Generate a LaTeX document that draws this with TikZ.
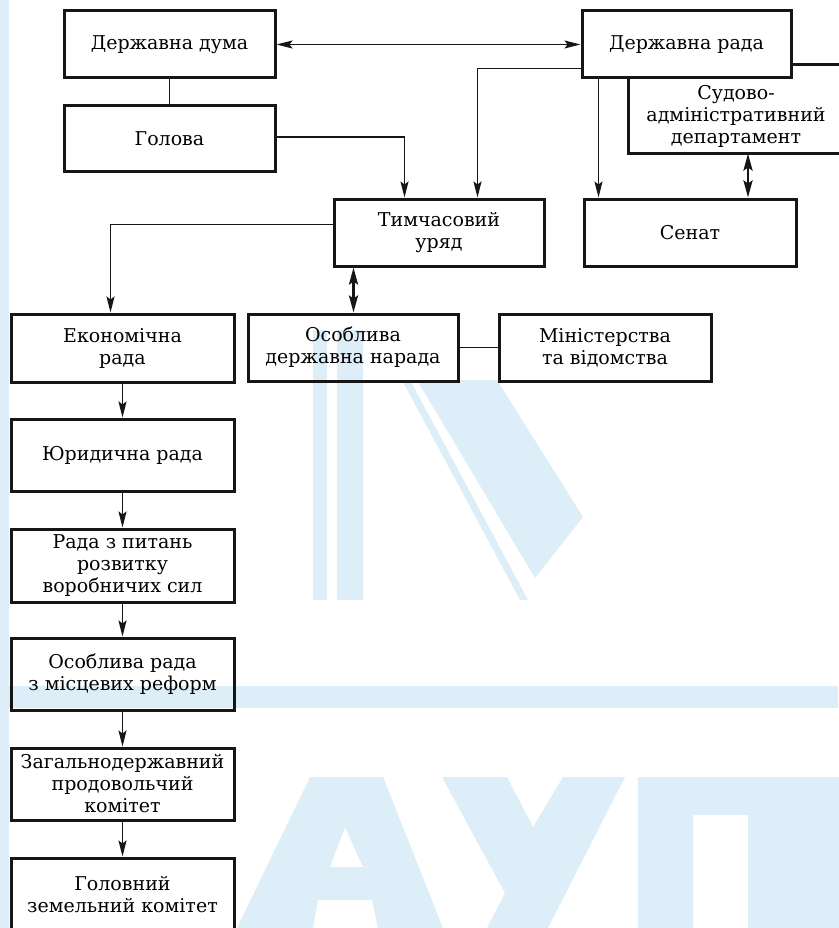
\documentclass[tikz,border=0pt]{standalone}
\usepackage{fontspec}
\setmainfont{DejaVu Serif}
\usetikzlibrary{arrows.meta,calc}
\definecolor{wm}{RGB}{222,238,248}
\definecolor{ink}{RGB}{22,22,22}
\begin{document}
\begin{tikzpicture}[x=1pt,y=-1pt,
  box/.style={draw=ink, line width=3pt, align=center, inner sep=0pt, font=\fontsize{19}{22}\selectfont},
  boxline/.style={draw=ink, line width=3pt},
  txt/.style={align=center, inner sep=0pt, font=\fontsize{19}{22}\selectfont},
  conn/.style={draw=ink, line width=1.8pt},
  tip/.style={},
  arr/.style={conn, -{Stealth[length=16pt,width=8pt,inset=3pt]}},
  dbl/.style={draw=ink, line width=1.5pt, {Stealth[length=16pt,width=8pt,inset=3pt]}-{Stealth[length=16pt,width=8pt,inset=3pt]}},
  dblthick/.style={draw=ink, line width=2.8pt, {Stealth[length=17pt,width=9pt,inset=3pt]}-{Stealth[length=17pt,width=9pt,inset=3pt]}},
]
\useasboundingbox (0,0) rectangle (838,928);
\fill[white] (0,0) rectangle (838,928);
% watermark
\fill[wm] (0,0) rectangle (9,928);
\fill[wm] (0,686) rectangle (838,708);
\fill[wm] (313,330) rectangle (327,600);
\fill[wm] (337,330) rectangle (363,600);
\fill[wm] (402,380) -- (410,380) -- (528,600) -- (520,600) -- cycle;
\fill[wm] (417,380) -- (497,380) -- (583,517) -- (535,578) -- cycle;
\fill[wm, even odd rule] (237,928) -- (310,777) -- (383,777) -- (443,928) -- (378,928) -- (372,900) -- (318,900) -- (313,928) -- cycle
  (345,827) -- (363,867) -- (330,867) -- cycle;
\fill[wm] (442,777) -- (507,777) -- (533,827) -- (563,777) -- (625,777) -- (548,928) -- (487,928) -- (505,893) -- cycle;
\fill[wm, even odd rule] (638,777) rectangle (850,928) (693,815) rectangle (748,928);

% boxes
\node[box, minimum width=211pt, minimum height=67pt] (duma) at (169.5,44.5) {Державна дума};
\node[box, minimum width=211pt, minimum height=66pt] (golova) at (169.5,139) {Голова};
\node[box, minimum width=209pt, minimum height=67pt] (rada) at (686.5,44.5) {Державна рада};
\node[box, draw=none, minimum width=212pt, minimum height=86pt] (sud) at (736,109) {};
\node[txt] (sudtxt) at (736,116) {Судово-\\адміністративний\\департамент};
\draw[boxline] (sud.north -| rada.east) -- (sud.north east);
\draw[boxline] (rada.south -| sud.west) -- (sud.south west) -- (sud.south east);
\node[box, minimum width=210pt, minimum height=67pt] (timch) at (439,232.5) {Тимчасовий\\уряд};
\node[box, minimum width=212pt, minimum height=67pt] (senat) at (690,232.5) {Сенат};
\node[box, minimum width=223pt, minimum height=68pt] (ekon) at (122.5,348) {Економічна\\рада};
\node[box, minimum width=210pt, minimum height=67pt] (osob) at (353,347.5) {Особлива\\державна нарада};
\node[box, minimum width=212pt, minimum height=67pt] (min) at (605,347.5) {Міністерства\\та відомства};
\node[box, minimum width=223pt, minimum height=72pt] (yur) at (122.5,455) {Юридична рада};
\node[box, minimum width=223pt, minimum height=73pt] (rozv) at (122.5,565.5) {Рада з питань\\розвитку\\воробничих сил};
\node[box, minimum width=223pt, minimum height=72pt] (mistr) at (122.5,674) {Особлива рада\\з місцевих реформ};
\node[box, minimum width=223pt, minimum height=72pt] (zag) at (122.5,784) {Загальнодержавний\\продовольчий\\комітет};
\node[box, minimum width=223pt, minimum height=74pt] (golzem) at (122.5,895) {Головний\\земельний комітет};

% connectors
\draw[dbl] (duma.east) -- (rada.west);
\draw[conn] (duma.south) -- (golova.north);
\draw[arr] ([yshift=2pt]golova.east) -| ([xshift=72pt]timch.north west);
\draw[arr] ([yshift=11pt]rada.south west) -| ([xshift=-68pt]timch.north east);
\draw[arr] ([xshift=18pt]rada.south west) -- ([xshift=18pt]rada.south west |- senat.north);
\coordinate (sx) at (748,0);
\draw[dblthick] (sx |- sud.south) -- (sx |- senat.north);
\draw[arr] ([yshift=8pt]timch.west) -| ([xshift=101pt]ekon.north west);
\draw[dblthick] ([xshift=21pt]timch.south west) -- ([xshift=21pt]timch.south west |- osob.north);
\draw[conn] (osob.east) -- (min.west);
\draw[arr] (ekon.south) -- (yur.north);
\draw[arr] (yur.south) -- (rozv.north);
\draw[arr] (rozv.south) -- (mistr.north);
\draw[arr] (mistr.south) -- (zag.north);
\draw[arr] (zag.south) -- (golzem.north);
\end{tikzpicture}
\end{document}
